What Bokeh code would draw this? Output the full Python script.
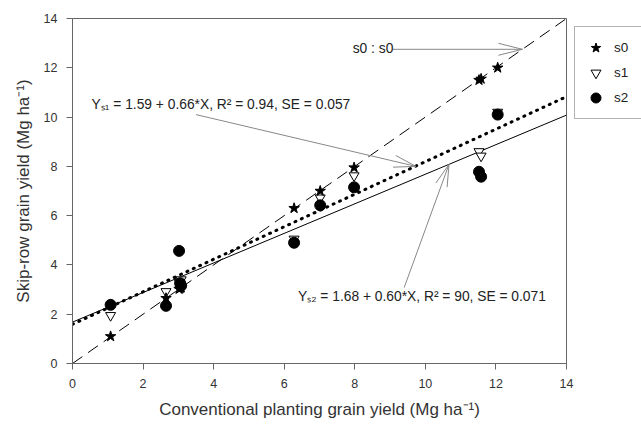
from bokeh.plotting import figure
from bokeh.models import Range1d, Label, Legend, LegendItem, ColumnDataSource
from bokeh.embed import file_html
from bokeh.resources import INLINE
import numpy as np

# ---- data ----
conv_x = [1.08, 2.65, 3.02, 3.05, 3.08, 6.28, 7.02, 7.98, 11.52, 11.58, 12.05]
s0_y = [1.10, 2.65, 3.02, 3.05, 3.08, 6.30, 7.00, 7.95, 11.50, 11.55, 12.00]
s1_y = [1.95, 2.92, 3.30, 3.35, 3.40, 5.05, 6.72, 7.62, 8.60, 8.42, 10.20]
s2_y = [2.38, 2.34, 4.57, 3.26, 3.16, 4.90, 6.42, 7.15, 7.78, 7.58, 10.10]
series_names = ["s0", "s1", "s2"]
fit_intercepts = [0.0, 1.59, 1.68]
fit_slopes = [1.0, 0.66, 0.60]
x_ticks = [0, 2, 4, 6, 8, 10, 12, 14]
y_ticks = [0, 2, 4, 6, 8, 10, 12, 14]

FONT = "Liberation Sans"
BL, BT = 72, 18
FW, FH = 494, 345
BR, BB = 641 - BL - FW, 425 - BT - FH
XMAX, YMAX = 14, 14
sx, sy = FW / XMAX, FH / YMAX

p = figure(frame_width=FW, frame_height=FH, output_backend="svg", toolbar_location=None,
           x_range=Range1d(0, XMAX), y_range=Range1d(0, YMAX),
           min_border_left=BL, min_border_right=BR, min_border_top=BT, min_border_bottom=BB)
p.xgrid.visible = False
p.ygrid.visible = False
p.outline_line_color = "#666666"
p.background_fill_color = "white"
p.border_fill_color = "white"

for ax in (p.xaxis[0], p.yaxis[0]):
    ax.axis_line_color = "#666666"
    ax.major_tick_line_color = "#666666"
    ax.minor_tick_line_color = None
    ax.major_tick_out = 6
    ax.major_tick_in = 0
    ax.major_label_standoff = 9
    ax.major_label_text_font = FONT
    ax.major_label_text_font_size = "12.5px"
    ax.major_label_text_color = "#333333"
    ax.axis_label_text_font = FONT
    ax.axis_label_text_font_size = "17px"
    ax.axis_label_text_font_style = "normal"
    ax.axis_label_text_color = "#333333"
p.xaxis.ticker = x_ticks
p.yaxis.ticker = y_ticks
p.xaxis.axis_label = "Conventional planting grain yield (Mg ha\u207b\u00b9)"
p.yaxis.axis_label = "Skip-row grain yield (Mg ha\u207b\u00b9)"
p.xaxis.axis_label_standoff = 9
p.yaxis.axis_label_standoff = 8

# fit lines
xs_line = [0, XMAX]
dash_styles = [dict(line_dash="12 7", line_width=1, line_cap="butt"),
               dict(line_dash="1 6", line_width=3, line_cap="round"),
               dict(line_dash="solid", line_width=1, line_cap="butt")]
for a, b, st in zip(fit_intercepts, fit_slopes, dash_styles):
    p.line(xs_line, [a + b * v for v in xs_line], line_color="black", **st)

src = ColumnDataSource(dict(x=conv_x, s0=s0_y, s1=s1_y, s2=s2_y))
r1 = p.scatter("x", "s1", source=src, marker="inverted_triangle", size=10,
               fill_color="white", line_color="black", line_width=1)
r2 = p.scatter("x", "s2", source=src, marker="circle", size=11,
               fill_color="black", line_color="black")
r0 = p.scatter("x", "s0", source=src, marker="star", size=11,
               fill_color="black", line_color="black")

# annotations: arrows with narrow open heads
def arrow(x0, y0, x1, y1, L=22, Wd=6, color="#888888"):
    p.segment(x0=[x0], y0=[y0], x1=[x1], y1=[y1], line_color=color, line_width=1)
    dx, dy = (x1 - x0) * sx, (y1 - y0) * sy
    n = np.hypot(dx, dy)
    ux, uy = dx / n, dy / n
    bx, by = -L * ux, -L * uy
    px_, py_ = -uy * Wd, ux * Wd
    bxs = [x1 + (bx + px_) / sx, x1 + (bx - px_) / sx]
    bys = [y1 + (by + py_) / sy, y1 + (by - py_) / sy]
    p.segment(x0=[x1, x1], y0=[y1, y1], x1=bxs, y1=bys, line_color=color, line_width=1)

arrow(9.07, 12.75, 12.75, 12.75, L=24, Wd=6)
arrow(3.5, 10.1, 9.73, 8.0, L=22, Wd=6)
arrow(9.4, 3.08, 10.67, 8.08, L=22, Wd=6)

def lab(x, y, t):
    p.add_layout(Label(x=x, y=y, text=t, text_font=FONT, text_font_size="13.8px",
                       text_color="#222222", text_baseline="middle", text_align="left"))

lab(7.94, 12.8, "s0 : s0")
lab(0.54, 10.49, "Y\u209b\u2081 = 1.59 + 0.66*X, R\u00b2 = 0.94, SE = 0.057")
lab(6.39, 2.72, "Y\u209b\u2082 = 1.68 + 0.60*X, R\u00b2 = 90, SE = 0.071")

legend = Legend(items=[LegendItem(label=series_names[0], renderers=[r0]),
                       LegendItem(label=series_names[1], renderers=[r1]),
                       LegendItem(label=series_names[2], renderers=[r2])],
                location="top_left")
legend.label_text_font = FONT
legend.label_text_font_size = "13.5px"
legend.label_text_color = "#222222"
legend.label_height = 14
legend.glyph_height = 25
legend.glyph_width = 25
legend.label_standoff = 6
legend.spacing = -11
legend.padding = 8
legend.margin = 8
legend.border_line_color = "#666666"
legend.background_fill_alpha = 1
p.add_layout(legend, "right")

open("out.html", "w").write(file_html(p, INLINE))
